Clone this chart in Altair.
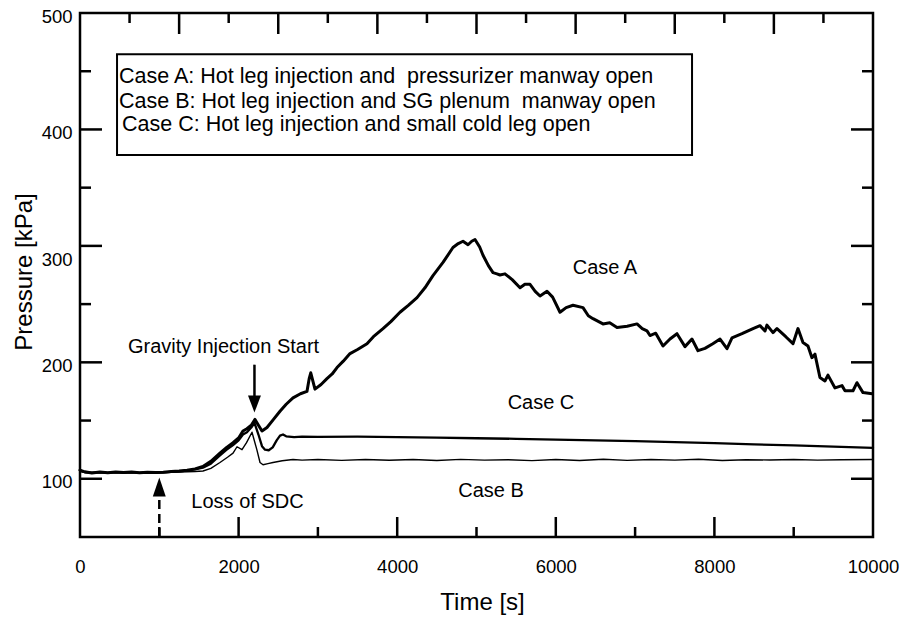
import altair as alt
import pandas as pd

# ---------------- data ----------------
time_a = [0, 60, 150, 250, 350, 450, 550, 650, 750, 850, 950, 1050, 1150, 1250, 1350, 1450,
          1550, 1650, 1765, 1850, 1930, 2000, 2055, 2105, 2160, 2207, 2250, 2295, 2358, 2440,
          2522, 2600, 2686, 2780, 2862, 2890, 2910, 2963, 3040, 3114, 3180, 3241, 3320, 3405,
          3500, 3619, 3700, 3821, 3920, 4035, 4140, 4250, 4350, 4451, 4580, 4703, 4770, 4830,
          4893, 4940, 4981, 5040, 5082, 5150, 5208, 5258, 5296, 5359, 5450, 5549, 5610, 5675,
          5740, 5801, 5889, 5960, 6053, 6130, 6217, 6343, 6410, 6469, 6595, 6680, 6772, 6900,
          7024, 7090, 7150, 7188, 7260, 7352, 7440, 7528, 7629, 7717, 7793, 7881, 7980, 8071,
          8159, 8222, 8348, 8487, 8575, 8638, 8663, 8739, 8789, 8900, 8991, 9054, 9117, 9180,
          9230, 9268, 9331, 9394, 9432, 9521, 9609, 9647, 9748, 9798, 9874, 9990]
pres_a = [107.5, 106, 105, 105.8, 105.2, 105.9, 105.3, 105.8, 105.2, 105.7, 105.3, 105.6, 106.2,
          106.6, 107.3, 108.5, 110.5, 115, 122, 127, 131, 135, 141, 143, 146, 151, 146, 141, 144,
          151, 158, 164, 169.5, 173, 175, 186, 191, 177, 181, 186, 190, 195.5, 201, 207.5, 211,
          216, 222, 229, 235, 243, 249, 255.6, 264, 274.5, 286, 298.6, 302, 304, 301, 304, 305.5,
          299, 292, 283, 277, 276, 275, 276, 271, 264, 267, 267, 261, 257, 261, 256, 243, 247,
          249, 247, 240, 237.5, 233, 234, 230, 231, 233, 229, 227, 223, 225, 214, 220, 224.6,
          213.5, 220, 210, 212, 216, 220, 211.7, 221, 224.6, 229, 231.5, 227, 232, 225.5, 229,
          222, 216, 229, 217, 214, 204, 207, 187, 184, 189, 178, 180, 175.6, 175.6, 182.5, 174,
          173]

time_b = [0, 60, 150, 250, 350, 450, 550, 650, 750, 850, 950, 1050, 1150, 1250, 1350, 1450,
          1551, 1650, 1765, 1860, 1930, 1980, 2043, 2100, 2169, 2230, 2270, 2308, 2370, 2434,
          2550, 2686, 2800, 3000, 3300, 3600, 3900, 4200, 4500, 4800, 5100, 5400, 5700, 6000,
          6300, 6600, 6900, 7200, 7500, 7800, 8100, 8400, 8700, 9000, 9300, 9600, 10000]
pres_b = [106.5, 105.5, 105, 105.6, 105.1, 105.7, 105.2, 105.6, 105.1, 105.6, 105.2, 105.4, 105.5,
          105.8, 106, 106.3, 106.7, 109, 114, 118.5, 122, 127.5, 125, 131, 140, 125, 114, 112,
          113, 114, 115.5, 116.6, 116, 116.5, 115.8, 116.6, 115.9, 116.5, 115.7, 116.7, 116,
          116.4, 115.6, 116.5, 115.7, 116.8, 115.8, 116.6, 116, 116.8, 115.7, 116.4, 116.1,
          116.5, 116, 116.4, 116.5]

time_c = [0, 60, 150, 250, 350, 450, 550, 650, 750, 850, 950, 1050, 1150, 1250, 1350, 1450,
          1550, 1650, 1765, 1850, 1930, 2000, 2055, 2105, 2160, 2200, 2250, 2295, 2333, 2380,
          2430, 2480, 2522, 2560, 2600, 2700, 2800, 3000, 3500, 4000, 4500, 5000, 5500, 6000,
          6500, 7000, 7500, 8000, 8500, 9000, 9500, 10000]
pres_c = [107, 105.6, 105.2, 105.6, 105.1, 105.6, 105.2, 105.6, 105.1, 105.5, 105.2, 105.5, 105.9,
          106.3, 107, 108, 109.5, 113, 120, 125, 129, 133, 138, 140, 144, 148, 138, 128, 125,
          124.5, 127, 133, 137, 138, 136.5, 135.8, 136.2, 136, 136.2, 135.8, 135.3, 134.8, 134.3,
          133.6, 133, 132.4, 131.5, 130.6, 129.6, 128.6, 127.6, 126.6]

x_label_values = [0, 2000, 4000, 6000, 8000, 10000]
x_major_ticks = [2000, 4000, 6000, 8000]
x_minor_ticks = [1000, 3000, 5000, 7000, 9000]
top_major_ticks = [1250, 2500, 3750, 5000, 6250, 7500, 8750]
top_minor_ticks = [625, 1875, 3125, 4375, 5625, 6875, 8125, 9375]
y_label_values = [100, 200, 300, 400, 500]
y_major_ticks = [100, 200, 300, 400]
y_minor_ticks = [150, 250, 350, 450]

legend_lines = ["Case A: Hot leg injection and\u00a0 pressurizer manway open",
                "Case B: Hot leg injection and SG plenum\u00a0 manway open",
                "Case C: Hot leg injection and small cold leg open"]
legend_t = [492, 492, 530]
legend_p = [444.8, 423.4, 403.7]
legend_box_t = [467, 7718]
legend_box_p = [378, 464.5]

ann_text = ["Gravity Injection Start", "Loss of SDC", "Case A", "Case C", "Case B"]
ann_t = [1810, 2112, 6620, 5813, 5183]
ann_p = [213.4, 79.8, 281.1, 165.4, 89.1]

arrow_down_t = [2200]
arrow_down_tip = [157]
arrow_down_base = [171]
arrow_down_tail = [198]
arrow_up_t = [1000]
arrow_up_tip = [101]
arrow_up_base = [85]
arrow_up_tail = [50]

# ---------------- tables ----------------
df_a = pd.DataFrame({"t": time_a, "p": pres_a})
df_b = pd.DataFrame({"t": time_b, "p": pres_b})
df_c = pd.DataFrame({"t": time_c, "p": pres_c})

leg_df = pd.DataFrame({"txt": legend_lines, "t": legend_t, "p": legend_p})
box_df = pd.DataFrame({"t": [legend_box_t[0]], "t2": [legend_box_t[1]],
                       "p": [legend_box_p[0]], "p2": [legend_box_p[1]]})
ann_df = pd.DataFrame({"txt": ann_text, "t": ann_t, "p": ann_p})
down_df = pd.DataFrame({"t": arrow_down_t, "tip": arrow_down_tip,
                        "base": arrow_down_base, "tail": arrow_down_tail})
up_df = pd.DataFrame({"t": arrow_up_t, "tip": arrow_up_tip,
                      "base": arrow_up_base, "tail": arrow_up_tail})

# ---------------- styling ----------------
W, H = 793, 524
FONT = "Liberation Sans"
xs = alt.Scale(domain=[0, 10000], nice=False, zero=False)
ys = alt.Scale(domain=[50, 500], nice=False, zero=False)

x_main = alt.Axis(orient="bottom", values=x_label_values, format="d", grid=False, ticks=False,
                  domain=False, labelFlush=False, labelOverlap=False, labelFont=FONT,
                  labelFontSize=18.5, labelColor="black", labelPadding=20,
                  title="Time [s]", titleFont=FONT, titleFontSize=24, titleFontWeight="normal",
                  titleColor="black", titleX=402, titleY=65, titleBaseline="middle")
y_main = alt.Axis(orient="left", values=y_label_values, format="d", grid=False, ticks=False,
                  domain=False, labelOverlap=False, labelFont=FONT, labelFontSize=18.5,
                  labelColor="black", labelPadding=8,
                  labelOffset={"condition": {"test": "datum.value == 300", "value": 14},
                               "value": 3},
                  title="Pressure [kPa]", titleFont=FONT, titleFontSize=24,
                  titleFontWeight="normal", titleColor="black", titleX=-56, titleY=258.5,
                  titleBaseline="middle")


def curve(d, width, with_axes=False):
    return alt.Chart(d).mark_line(color="black", strokeWidth=width, strokeJoin="round",
                                  strokeCap="round").encode(
        x=alt.X("t:Q", scale=xs, axis=x_main if with_axes else None),
        y=alt.Y("p:Q", scale=ys, axis=y_main if with_axes else None),
        order="t:Q",
    )


line_a = curve(df_a, 3.0, with_axes=True)
line_c = curve(df_c, 2.3)
line_b = curve(df_b, 1.4)


def xticks(values, y0, y1):
    return alt.Chart(pd.DataFrame({"v": values})).mark_rule(
        color="black", strokeWidth=2.5, strokeCap="butt").encode(
        x=alt.X("v:Q", scale=xs, axis=None), y=alt.value(y0), y2=alt.value(y1))


def yticks(values, x0, x1):
    return alt.Chart(pd.DataFrame({"v": values})).mark_rule(
        color="black", strokeWidth=2.5, strokeCap="butt").encode(
        y=alt.Y("v:Q", scale=ys, axis=None), x=alt.value(x0), x2=alt.value(x1))


tick_layers = [
    xticks(x_major_ticks, H, H - 20),
    xticks(x_minor_ticks, H, H - 10),
    xticks(top_major_ticks, 0, 21),
    xticks(top_minor_ticks, 0, 10),
    yticks(y_major_ticks, 0, 22),
    yticks(y_minor_ticks, 0, 11),
    yticks(y_major_ticks, W, W - 22),
    yticks(y_minor_ticks, W, W - 11),
]

box = alt.Chart(box_df).mark_rect(fill="white", stroke="black", strokeWidth=2).encode(
    x=alt.X("t:Q", scale=xs, axis=None), x2="t2:Q",
    y=alt.Y("p:Q", scale=ys, axis=None), y2="p2:Q")

leg_text = alt.Chart(leg_df).mark_text(font=FONT, fontSize=21.5, color="black", align="left",
                                       baseline="middle").encode(
    x=alt.X("t:Q", scale=xs, axis=None), y=alt.Y("p:Q", scale=ys, axis=None), text="txt:N")

ann = alt.Chart(ann_df).mark_text(font=FONT, fontSize=20, color="black", align="center",
                                  baseline="middle").encode(
    x=alt.X("t:Q", scale=xs, axis=None), y=alt.Y("p:Q", scale=ys, axis=None), text="txt:N")

down_shaft = alt.Chart(down_df).mark_rule(color="black", strokeWidth=2.5).encode(
    x=alt.X("t:Q", scale=xs, axis=None), y=alt.Y("tail:Q", scale=ys, axis=None), y2="base:Q")
down_head = alt.Chart(down_df).mark_point(
    shape="M -0.76 -2 L 0.76 -2 L 0 0 Z", size=289, filled=True, color="black", opacity=1
).encode(x=alt.X("t:Q", scale=xs, axis=None), y=alt.Y("tip:Q", scale=ys, axis=None))

up_shaft = alt.Chart(up_df).mark_rule(color="black", strokeWidth=2.5, strokeDash=[9, 5]).encode(
    x=alt.X("t:Q", scale=xs, axis=None), y=alt.Y("tail:Q", scale=ys, axis=None), y2="base:Q")
up_head = alt.Chart(up_df).mark_point(
    shape="M -0.68 2 L 0.68 2 L 0 0 Z", size=361, filled=True, color="black", opacity=1
).encode(x=alt.X("t:Q", scale=xs, axis=None), y=alt.Y("tip:Q", scale=ys, axis=None))

chart = alt.layer(
    line_a, line_c, line_b, *tick_layers, box, leg_text, ann,
    down_shaft, down_head, up_shaft, up_head
).resolve_axis(x="independent", y="independent").properties(
    width=W, height=H,
    padding={"left": 80, "top": 13, "right": 35, "bottom": 83},
    autosize=alt.AutoSizeParams(type="none"),
    background="white",
).configure_view(stroke="black", strokeWidth=2.5)

chart.save("out.html", embed_options={"renderer": "svg", "actions": False})
